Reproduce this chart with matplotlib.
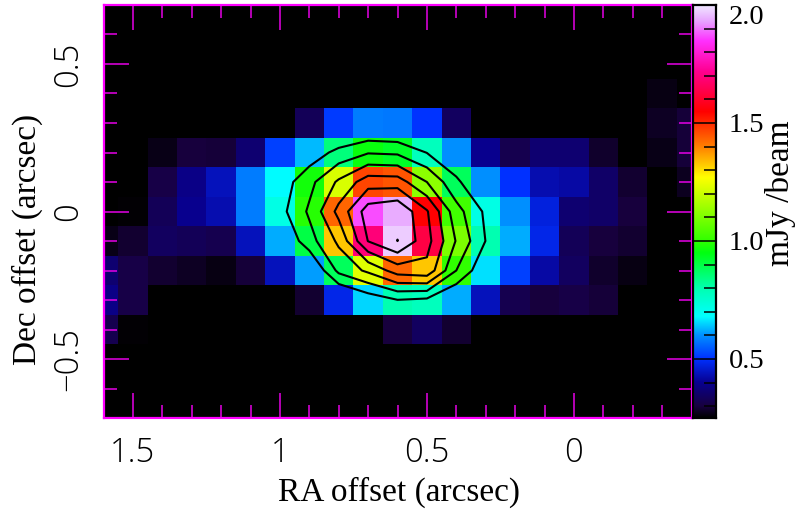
import numpy as np
import matplotlib
matplotlib.use('Agg')
import matplotlib.pyplot as plt
from matplotlib.colors import LinearSegmentedColormap
from matplotlib.ticker import MultipleLocator

# image pixels, 0.1 arcsec apart
ra = [1.6, 1.5, 1.4, 1.3, 1.2, 1.1, 1.0, 0.9, 0.8, 0.7, 0.6, 0.5, 0.4, 0.3, 0.2, 0.1, 0.0, -0.1, -0.2, -0.3, -0.4]
dec = [0.7, 0.6, 0.5, 0.4, 0.3, 0.2, 0.1, 0.0, -0.1, -0.2, -0.3, -0.4, -0.5, -0.6, -0.7]
flux = [
    [.20, .20, .20, .20, .20, .20, .20, .20, .20, .20, .20, .20, .20, .20, .20, .20, .20, .20, .20, .20, .20],
    [.20, .20, .20, .20, .20, .20, .20, .20, .20, .20, .20, .20, .20, .20, .20, .20, .20, .20, .20, .20, .20],
    [.20, .20, .20, .20, .20, .20, .20, .20, .20, .20, .20, .20, .20, .20, .20, .20, .20, .20, .20, .20, .20],
    [.20, .20, .20, .20, .20, .20, .20, .20, .20, .20, .20, .20, .20, .20, .20, .20, .20, .20, .20, .265, .20],
    [.20, .20, .20, .20, .20, .20, .20, .33, .51, .58, .575, .505, .34, .20, .20, .20, .20, .20, .20, .28, .295],
    [.20, .20, .27, .30, .295, .36, .52, .63, .85, .96, .93, .78, .60, .40, .32, .36, .36, .285, .20, .27, .295],
    [.20, .20, .31, .39, .44, .58, .68, .97, 1.22, 1.47, 1.45, 1.12, .88, .60, .50, .43, .42, .35, .29, .20, .275],
    [.20, .255, .33, .40, .43, .58, .72, .99, 1.43, 1.87, 1.94, 1.55, 1.02, .72, .60, .47, .36, .35, .30, .20, .20],
    [.27, .29, .34, .33, .32, .44, .62, .90, 1.33, 1.69, 1.97, 1.63, 1.10, .80, .62, .48, .33, .30, .29, .20, .20],
    [.36, .31, .29, .28, .265, .295, .44, .61, .88, 1.23, 1.43, 1.33, 1.00, .66, .52, .42, .34, .285, .265, .20, .20],
    [.39, .31, .20, .20, .20, .20, .20, .29, .48, .65, .80, .78, .62, .44, .32, .30, .31, .295, .20, .20, .20],
    [.32, .255, .20, .20, .20, .20, .20, .20, .20, .20, .30, .34, .29, .20, .20, .20, .20, .20, .20, .20, .20],
    [.20, .20, .20, .20, .20, .20, .20, .20, .20, .20, .20, .20, .20, .20, .20, .20, .20, .20, .20, .20, .20],
    [.20, .20, .20, .20, .20, .20, .20, .20, .20, .20, .20, .20, .20, .20, .20, .20, .20, .20, .20, .20, .20],
    [.20, .20, .20, .20, .20, .20, .20, .20, .20, .20, .20, .20, .20, .20, .20, .20, .20, .20, .20, .20, .20],
]

# second map, only drawn as contours
cont_ra = [1.1, 1.0, 0.9, 0.8, 0.7, 0.6, 0.5, 0.4, 0.3, 0.2]
cont_dec = [0.3, 0.2, 0.1, 0.0, -0.1, -0.2, -0.3, -0.4]
cont_map = [
    [-1, -1, -1, -.67, -.38, -.48, -.8, -1, -1, -1],
    [-1, -.5, .38, 1.31, 1.92, 1.82, .97, .1, -1, -1],
    [-1, .42, 1.7, 3.17, 4.55, 4.5, 3.0, 1.2, -.1, -1],
    [-1, .65, 2.16, 4.3, 6.5, 6.9, 5.1, 2.4, .81, -1],
    [-1, -.1, 1.6, 3.2, 6.03, 7.005, 5.37, 2.93, .98, -1],
    [-1, -1, -.26, 2.26, 3.2, 4.47, 4.7, 2.0, .13, -1],
    [-1, -1, -1, -.5, .35, .98, .8, -.17, -1, -1],
    [-1, -1, -1, -1, -.5, -.6, -1, -1, -1, -1],
]
cont_levels = [1, 2, 3, 4, 5, 6, 7]

# colour table as read from the wedge
cmap_vals = [.25, .30, .40, .50, .60, .68, .80, .95, 1.00, 1.27, 1.40, 1.55, 1.72, 1.85, 1.93, 2.00]
cmap_cols = ['#000000', '#180040', '#080090', '#0030ff', '#0090ff', '#00ffff', '#00ffb0', '#00ff10',
             '#30ff00', '#ffff00', '#ff8000', '#ff0000', '#ff0090', '#ff30ff', '#e8a0ff', '#f0e8ff']
vmin, vmax = .25, 2.0

W, H = 801, 514
magenta = '#e600e6'

plt.rcParams['font.family'] = ['Liberation Serif', 'DejaVu Serif']

nodes = [(v - vmin) / (vmax - vmin) for v in cmap_vals]
cmap = LinearSegmentedColormap.from_list('wedge', list(zip(nodes, cmap_cols)), N=512)
cmap.set_under('black')

fig = plt.figure(figsize=(W / 100, H / 100), dpi=100)
ax = fig.add_axes([103.5 / W, 1 - 418 / H, 588 / W, 413 / H])
cax = fig.add_axes([692.5 / W, 1 - 418 / H, 23.5 / W, 413 / H])

ax.pcolormesh(ra, dec, np.array(flux), cmap=cmap, vmin=vmin, vmax=vmax, shading='nearest')
ax.contour(cont_ra, cont_dec, np.array(cont_map), levels=cont_levels, colors='black', linewidths=1.5)
ax.set_xlim(1.6, -0.4)
ax.set_ylim(-0.7, 0.7)

ax.set_xticks([1.5, 1, 0.5, 0])
ax.set_xticklabels(['1.5', '1', '0.5', '0'], family='Open Sans', weight='light', fontsize=23.5)
ax.set_yticks([0.5, 0, -0.5])
ax.set_yticklabels(['0.5', '0', '\u22120.5'], family='Open Sans', weight='light', fontsize=23.5, rotation=90, va='center')
ax.xaxis.set_minor_locator(MultipleLocator(0.1))
ax.yaxis.set_minor_locator(MultipleLocator(0.1))
ax.tick_params(which='major', direction='in', length=18, width=1.1, color=magenta, top=True, right=True, pad=13)
ax.tick_params(which='minor', direction='in', length=9.4, width=1.1, color=magenta, top=True, right=True)
for s in ax.spines.values():
    s.set_color('#ff00ff')
    s.set_linewidth(1.6)

fig.text(399 / W, 1 - 492 / H, 'RA offset (arcsec)', fontsize=24, ha='center', va='center')
fig.text(27 / W, 1 - 239 / H, 'Dec offset (arcsec)', fontsize=24, rotation=90, ha='center', va='center')

# colour wedge
cax.imshow(np.linspace(vmin, vmax, 512)[:, None], cmap=cmap, vmin=vmin, vmax=vmax,
           origin='lower', aspect='auto', extent=[0, 1, vmin, vmax])
cax.set_xticks([])
cax.yaxis.tick_right()
cax.set_yticks([0.5, 1.0, 1.5, 2.0])
cax.set_yticklabels(['0.5', '1.0', '1.5', '2.0'], fontsize=20.5)
cax.get_yticklabels()[3].set_va('top')
cax.tick_params(axis='y', which='major', length=0, pad=9)
cax.hlines([0.5, 1.0, 1.5], 0, 1, color='black', lw=1.1)
minor_ticks = [v / 10 for v in range(3, 20) if v % 5]
cax.hlines(minor_ticks, 0.48, 1, color='black', lw=1.1)
for s in cax.spines.values():
    s.set_linewidth(1.6)
fig.text(780 / W, 1 - 193 / H, 'mJy /beam', fontsize=24, rotation=90, ha='center', va='center')

fig.savefig('out.png', dpi=100)
